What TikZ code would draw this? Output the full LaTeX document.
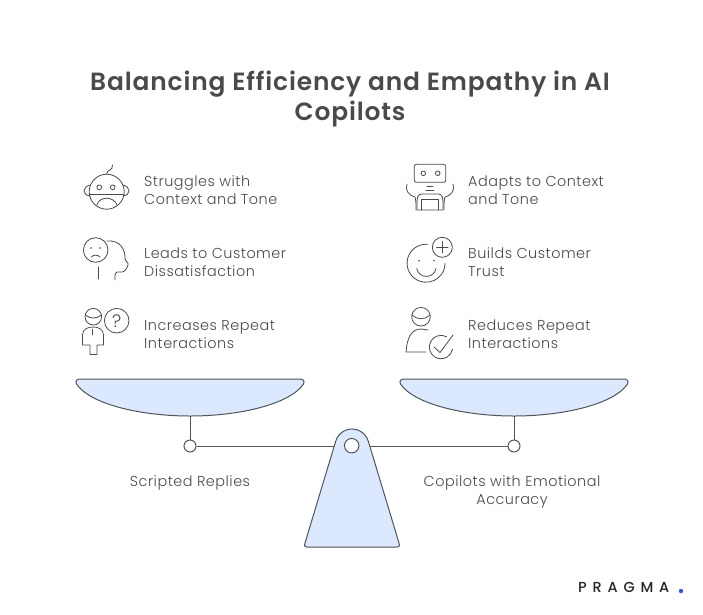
\documentclass[tikz,border=0pt]{standalone}
\usepackage{fontspec}
\setmainfont{Poppins Light}[BoldFont={Poppins SemiBold},LetterSpace=3.5]
\newfontfamily\logofont[LetterSpace=40]{Poppins Medium}
\usepackage{tikz}
\definecolor{inkgrey}{HTML}{4A4A4A}
\definecolor{linegrey}{HTML}{50555C}
\definecolor{panblue}{HTML}{DCE8FD}
\definecolor{dotblue}{HTML}{2F5FD0}
\tikzset{
  icon/.style={draw=inkgrey, line width=.8pt, line cap=round, line join=round},
  part/.style={draw=linegrey, line width=1pt, fill=panblue},
  pin/.style={circle, draw=linegrey, line width=1pt, fill=white, inner sep=0pt},
  label/.style={anchor=base west, align=left, text=inkgrey, font=\fontsize{14.4}{18}\selectfont, inner sep=0pt},
  caption/.style={anchor=base, align=center, text=inkgrey, font=\fontsize{14.4}{18}\selectfont, inner sep=0pt}
}
\begin{document}
\begin{tikzpicture}[x=1pt, y=-1pt]
      \useasboundingbox[fill=white] (0, 0) rectangle (703, 614);

      % title
      \node[anchor=base, align=center, text=inkgrey, inner sep=0pt, font=\fontsize{24.9}{30}\selectfont\bfseries] (title) at (350, 120)
        {Balancing Efficiency and Empathy in AI\\Copilots};

      % left texts
      \node[label] (struggles) at (144, 204) {Struggles with\\Context and Tone};
      \node[label] (leads) at (144, 276) {Leads to Customer\\Dissatisfaction};
      \node[label] (increases) at (144, 348) {Increases Repeat\\Interactions};

      % right texts
      \node[label] (adapts) at (468, 204) {Adapts to Context\\and Tone};
      \node[label] (builds) at (468, 276) {Builds Customer\\Trust};
      \node[label] (reduces) at (468, 348) {Reduces Repeat\\Interactions};

      % sad robot
      \draw[icon] (106.7, 191.7) circle (17.5);
      \draw[icon] (89.5, 194) -- (124, 194);
      \draw[icon] (99.3, 187.3) circle (2.4);
      \draw[icon] (112.7, 187.3) circle (2.4);
      \draw[icon] (97, 205) .. controls (99, 196) and (114, 196) .. (117, 205);
      \draw[icon] (90, 185) .. controls (82, 187) and (82, 195) .. (90, 196);
      \draw[icon] (123, 185) .. controls (131, 187) and (131, 195) .. (123, 196);
      \draw[icon] (106.7, 174) .. controls (107, 169) and (113, 171) .. (112.5, 165);

      % sad face with profile
      \draw[icon] (95.7, 250) circle (12.3);
      \fill[inkgrey] (91, 248) circle (.8);
      \fill[inkgrey] (100, 248) circle (.8);
      \draw[icon] (91.5, 257) .. controls (93, 254.5) and (98, 254.5) .. (100, 257);
      \draw[icon] (107, 241) .. controls (121, 240) and (125, 250) .. (125, 258)
        .. controls (125, 262) and (129, 262) .. (128, 265) .. controls (127, 269) and (124, 272) .. (122, 272)
        -- (117, 272) .. controls (115, 272) and (115, 274) .. (115, 280);
      \draw[icon] (98.5, 267) -- (98.5, 279);

      % person with question
      \draw[icon] (93.3, 316.7) circle (8.3);
      \draw[icon] (85.5, 315) .. controls (90, 319) and (97, 319) .. (101.3, 315);
      \draw[icon] (82.5, 345) -- (82.5, 335) .. controls (82.5, 329) and (88, 327) .. (93, 327)
        .. controls (98, 327) and (103.5, 329) .. (103.5, 335) -- (103.5, 345) -- (97, 345) -- (97, 354.5)
        -- (90, 354.5) -- (90, 345) -- cycle;
      \draw[icon] (92.7, 329) -- (92.7, 335);
      \draw[icon] (116.7, 320.7) circle (12.3);
      \node[inner sep=0pt, text=inkgrey, font=\fontsize{18}{18}\selectfont] (quest) at (116.7, 320.7) {?};

      % happy robot
      \draw[icon, rounded corners=2pt] (414.3, 164.3) rectangle (445.7, 182.3);
      \draw[icon] (423.3, 173.3) circle (2.3);
      \draw[icon] (437.7, 173.3) circle (2.3);
      \draw[icon] (427, 186.5) -- (433, 186.5);
      \draw[icon] (426, 190) -- (434, 190);
      \draw[icon] (417, 210) -- (417, 203) .. controls (417, 197) and (418, 194) .. (422, 194) -- (438, 194)
        .. controls (442, 194) and (443, 197) .. (443, 203) -- (443, 210) -- cycle;
      \draw[icon] (421.7, 210) -- (421.7, 199.5) -- (438.3, 199.5) -- (438.3, 210);
      \draw[icon] (407, 184) .. controls (405, 190) and (408, 195) .. (415, 197) .. controls (416, 200) and (416, 204) .. (416, 210);
      \draw[icon] (453, 184) .. controls (455, 190) and (452, 195) .. (445, 197) .. controls (444, 200) and (444, 204) .. (444, 210);

      % smile with plus
      \draw[icon] (427.7, 244.3) arc[start angle=-85, end angle=-360, radius=19];
      \draw[icon] (442.3, 247.3) circle (10);
      \draw[icon] (436.5, 247.3) -- (448, 247.3);
      \draw[icon] (442.3, 241.5) -- (442.3, 253);
      \fill[inkgrey] (419, 260.7) circle (.8);
      \fill[inkgrey] (434, 260.7) circle (.8);
      \draw[icon] (416.7, 268.5) .. controls (419, 279) and (434, 279) .. (436, 268.5);

      % person with check
      \draw[icon] (421, 316.7) circle (9.3);
      \draw[icon] (412, 315) .. controls (417, 320) and (425, 320) .. (430, 315);
      \draw[icon] (428, 330) -- (421, 329) .. controls (412, 329) and (407, 337) .. (406, 352) -- (426, 352);
      \draw[icon] (446.85, 336.9) arc[start angle=-60, end angle=-350, radius=11.7];
      \draw[icon] (434, 347) -- (440, 352.5) -- (453, 335);

      % pans
      \coordinate (leftbowl) at (190, 416);
      \coordinate (rightbowl) at (514, 416);
      \foreach \panx in {190, 514} {
        \draw[part] (\panx-110, 379) -- (\panx+110, 379) .. controls (\panx+113, 379) and (\panx+115, 381) .. (\panx+113.5, 384)
          .. controls (\panx+100, 404) and (\panx+50, 416) .. (\panx, 416)
          .. controls (\panx-50, 416) and (\panx-100, 404) .. (\panx-113.5, 384)
          .. controls (\panx-115, 381) and (\panx-113, 379) .. (\panx-110, 379) -- cycle;
      }

      % beam
      \node[pin, minimum size=12pt] (leftpin) at (190, 446) {};
      \node[pin, minimum size=12pt] (rightpin) at (514, 446) {};
      \coordinate (midpoint) at (352, 446);
      \draw[draw=linegrey] (leftbowl) -- (leftpin);
      \draw[draw=linegrey] (rightbowl) -- (rightpin);
      \draw[draw=linegrey] (leftpin) -- (midpoint);
      \draw[draw=linegrey] (rightpin) -- (midpoint);

      % stand
      \draw[part] (335.66, 441.3) arc[start angle=196, end angle=344, radius=17]
        -- (399, 543) .. controls (400, 546) and (399, 547) .. (397, 547) -- (307, 547)
        .. controls (305, 547) and (304, 546) .. (305, 543) -- cycle;
      \node[pin, minimum size=14.5pt] (midpin) at (351.7, 445.7) {};

      % captions
      \node[caption] (scripted) at (190, 486) {Scripted Replies};
      \node[caption] (copilots) at (512, 504) {Copilots with Emotional\\Accuracy};

      % logo
      \node[anchor=west, inner sep=0pt, text=black!85, font=\fontsize{14.5}{15}\logofont] (logo) at (578, 587) {PRAGMA};
      \fill[dotblue] (681, 591) circle (2.2);
\end{tikzpicture}
\end{document}
